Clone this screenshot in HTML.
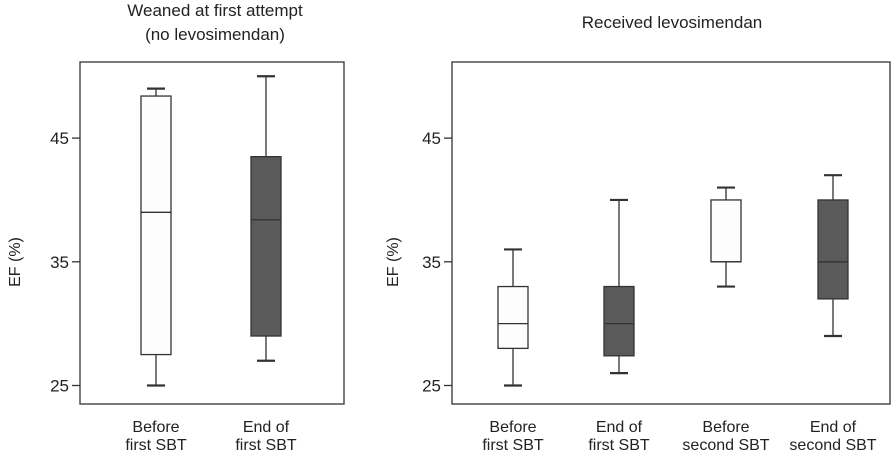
<!DOCTYPE html>
<html><head><meta charset="utf-8"><style>
html,body{margin:0;padding:0;background:#fff;}
svg{display:block;font-family:"Liberation Sans",Arial,sans-serif;}
</style></head><body>
<svg id="chart" width="894" height="455" viewBox="0 0 894 455" xmlns="http://www.w3.org/2000/svg">
<text x="215" y="16" font-size="17" text-anchor="middle" fill="#222">Weaned at first attempt</text>
<text x="215" y="40" font-size="17" text-anchor="middle" fill="#222">(no levosimendan)</text>
<text x="672" y="28" font-size="17" text-anchor="middle" fill="#222">Received levosimendan</text>
<g id="left"></g>
<g id="right"></g>
</svg>
<script>
const yTicks = [25, 35, 45];
const leftCats = [["Before","first SBT"],["End of","first SBT"]];
const leftMin = [25, 27];
const leftQ1 = [27.5, 29];
const leftMed = [39, 38.4];
const leftQ3 = [48.4, 43.5];
const leftMax = [49, 50];
const leftDark = [false, true];
const rightCats = [["Before","first SBT"],["End of","first SBT"],["Before","second SBT"],["End of","second SBT"]];
const rightMin = [25, 26, 33, 29];
const rightQ1 = [28, 27.4, 35, 32];
const rightMed = [30, 30, 35, 35];
const rightQ3 = [33, 33, 40, 40];
const rightMax = [36, 40, 41, 42];
const rightDark = [false, true, false, true];

const NS = "http://www.w3.org/2000/svg";
function mk(parent, tag, attrs){const e=document.createElementNS(NS,tag);for(const k in attrs)e.setAttribute(k,attrs[k]);parent.appendChild(e);return e;}
function yScale(v){return 385.5-(v-25)*12.37;}

function panel(gid, x0, x1, centers, cats, mn, q1, md, q3, mx, dark, ylabX){
  const g=document.getElementById(gid);
  const f=mk(g,"rect",{x:x0,y:62,width:x1-x0,height:342,fill:"none",stroke:"#333","stroke-width":1.3});
  
  
  yTicks.forEach(t=>{
    const y=yScale(t);
    const l=mk(g,"line",{x1:x0-8,x2:x0,y1:y,y2:y,stroke:"#333","stroke-width":1.3});
    
    
    const tx=mk(g,"text",{x:x0-11,y:y+6,"font-size":17,"text-anchor":"end",fill:"#222"});
    tx.textContent=t;
    
    
  });
  const yl=mk(g,"text",{x:0,y:0,"font-size":16,"text-anchor":"middle",fill:"#222",transform:`translate(${ylabX},262) rotate(-90)`});
  yl.textContent="EF (%)";
  
  
  centers.forEach((cx,i)=>{
    const bg=mk(g,"g",{});
    
    
    const st={stroke:"#333","stroke-width":1.3};
    mk(bg,"line",Object.assign({x1:cx,x2:cx,y1:yScale(mx[i]),y2:yScale(q3[i])},st));
    mk(bg,"line",Object.assign({x1:cx,x2:cx,y1:yScale(q1[i]),y2:yScale(mn[i])},st));
    mk(bg,"line",{x1:cx-9,x2:cx+9,y1:yScale(mx[i]),y2:yScale(mx[i]),stroke:"#333","stroke-width":2.2});
    mk(bg,"line",{x1:cx-9,x2:cx+9,y1:yScale(mn[i]),y2:yScale(mn[i]),stroke:"#333","stroke-width":2.2});
    mk(bg,"rect",Object.assign({x:cx-15,y:yScale(q3[i]),width:30,height:yScale(q1[i])-yScale(q3[i]),fill:dark[i]?"#5a5a5a":"#fdfdfd"},st));
    mk(bg,"line",Object.assign({x1:cx-15,x2:cx+15,y1:yScale(md[i]),y2:yScale(md[i])},st));
    cats[i].forEach((s,j)=>{
      const t=mk(g,"text",{x:cx,y:432+j*18,"font-size":16,"text-anchor":"middle",fill:"#222"});
      t.textContent=s;
      
      
    });
  });
}
panel("left",80,344,[156,266],leftCats,leftMin,leftQ1,leftMed,leftQ3,leftMax,leftDark,20);
panel("right",452,890,[513,619,726,833],rightCats,rightMin,rightQ1,rightMed,rightQ3,rightMax,rightDark,398);
</script>
</body></html>
